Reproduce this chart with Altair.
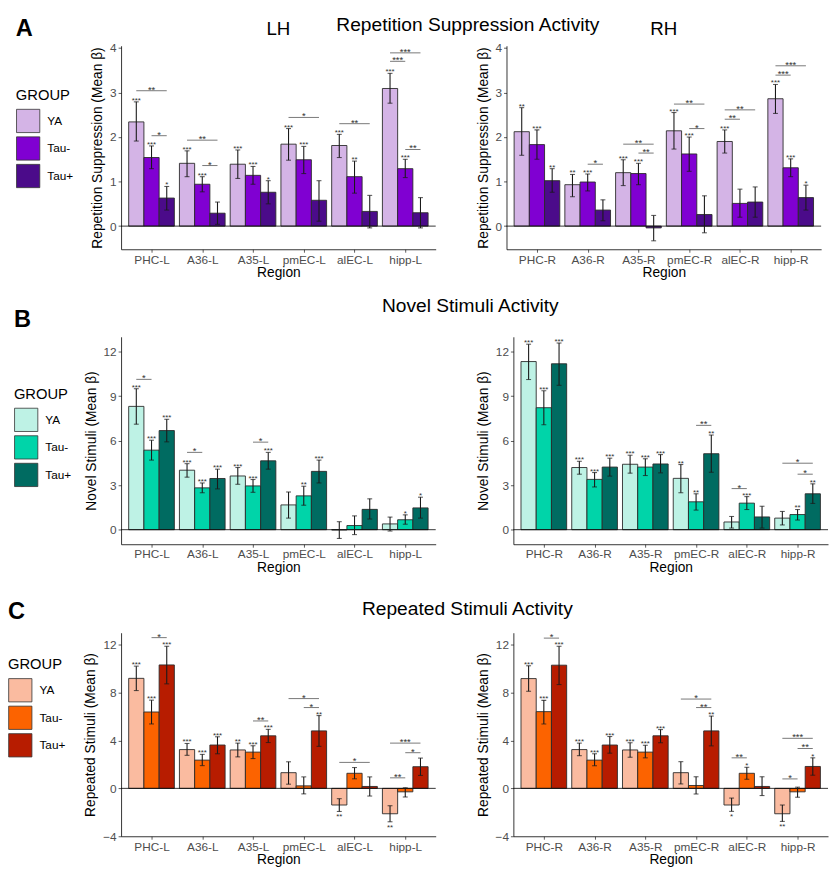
import altair as alt
import pandas as pd

FONT = "Liberation Sans"
groups = ["YA", "Tau-", "Tau+"]
regions_L = ["PHC-L", "A36-L", "A35-L", "pmEC-L", "alEC-L", "hipp-L"]
regions_R = ["PHC-R", "A36-R", "A35-R", "pmEC-R", "alEC-R", "hipp-R"]

colors_A = ["#d4b4e6", "#8000d2", "#4b0b8a"]
colors_B = ["#bef2e5", "#00d4a9", "#006b61"]
colors_C = ["#fabba0", "#fc6300", "#b71c00"]

# ---------------- Panel A: Repetition suppression ----------------
A_L_mean = [[2.34, 1.41, 1.39, 1.84, 1.81, 3.09],
            [1.54, 0.94, 1.14, 1.49, 1.11, 1.29],
            [0.63, 0.29, 0.76, 0.58, 0.33, 0.30]]
A_L_lo = [[1.91, 1.11, 1.07, 1.48, 1.54, 2.76],
          [1.29, 0.77, 0.94, 1.18, 0.74, 1.09],
          [0.36, 0.04, 0.50, 0.11, -0.04, -0.04]]
A_L_hi = [[2.79, 1.69, 1.71, 2.19, 2.06, 3.43],
          [1.80, 1.11, 1.34, 1.79, 1.46, 1.50],
          [0.89, 0.54, 1.02, 1.02, 0.69, 0.64]]
A_L_stars = [["***", "***", "***", "***", "***", "***"],
             ["***", "***", "***", "***", "**", "***"],
             ["*", "", "*", "", "", ""]]
A_L_brackets = [(0, 0, 2, 3.04, "**"), (0, 1, 2, 2.03, "*"), (1, 0, 2, 1.93, "**"),
                (1, 1, 2, 1.36, "*"), (3, 0, 2, 2.44, "*"), (4, 0, 2, 2.30, "**"),
                (5, 0, 1, 3.70, "***"), (5, 0, 2, 3.89, "***"), (5, 1, 2, 1.72, "**")]

A_R_mean = [[2.12, 0.93, 1.20, 2.14, 1.90, 2.86],
            [1.83, 0.99, 1.18, 1.62, 0.51, 1.31],
            [1.02, 0.36, -0.04, 0.26, 0.54, 0.64]]
A_R_lo = [[1.59, 0.66, 0.91, 1.73, 1.64, 2.53],
          [1.50, 0.79, 0.93, 1.23, 0.20, 1.11],
          [0.76, 0.12, -0.33, -0.15, 0.20, 0.36]]
A_R_hi = [[2.66, 1.16, 1.49, 2.55, 2.16, 3.18],
          [2.16, 1.17, 1.41, 2.00, 0.83, 1.51],
          [1.29, 0.59, 0.24, 0.68, 0.88, 0.92]]
A_R_stars = [["**", "**", "***", "***", "***", "***"],
             ["***", "***", "***", "***", "", "***"],
             ["**", "", "", "", "", "*"]]
A_R_brackets = [(1, 1, 2, 1.39, "*"), (2, 0, 2, 1.84, "**"), (2, 1, 2, 1.64, "**"),
                (3, 0, 2, 2.74, "**"), (3, 1, 2, 2.19, "*"), (4, 0, 1, 2.40, "**"),
                (4, 0, 2, 2.61, "**"), (5, 0, 1, 3.39, "***"), (5, 0, 2, 3.60, "***")]

# ---------------- Panel B: Novel stimuli ----------------
B_L_mean = [[8.31, 4.01, 3.62, 1.67, -0.02, 0.39],
            [5.36, 2.82, 2.95, 2.28, 0.28, 0.67],
            [6.68, 3.45, 4.64, 3.93, 1.37, 1.47]]
B_L_lo = [[7.11, 3.54, 3.06, 0.78, -0.59, -0.09],
          [4.69, 2.49, 2.52, 1.65, -0.33, 0.37],
          [5.92, 2.75, 4.08, 3.15, 0.72, 0.78]]
B_L_hi = [[9.50, 4.45, 4.19, 2.54, 0.54, 0.85],
          [6.03, 3.15, 3.38, 2.93, 0.93, 1.00],
          [7.44, 4.08, 5.21, 4.69, 2.08, 2.19]]
B_L_stars = [["***", "***", "***", "", "", ""],
             ["***", "***", "***", "**", "", "*"],
             ["***", "***", "***", "***", "", "*"]]
B_L_brackets = [(0, 0, 1, 10.13, "*"), (1, 0, 1, 5.21, "*"), (2, 1, 2, 5.90, "*")]

B_R_mean = [[11.33, 4.19, 4.41, 3.46, 0.52, 0.78],
            [8.22, 3.39, 4.22, 1.88, 1.79, 1.02],
            [11.18, 4.22, 4.43, 5.12, 0.86, 2.42]]
B_R_lo = [[10.12, 3.74, 3.81, 2.49, 0.11, 0.32],
          [7.07, 2.88, 3.65, 1.32, 1.36, 0.65],
          [9.73, 3.61, 3.83, 3.87, 0.11, 1.77]]
B_R_hi = [[12.50, 4.61, 5.02, 4.39, 0.89, 1.23],
          [9.36, 3.85, 4.78, 2.42, 2.23, 1.36],
          [12.58, 4.82, 5.06, 6.38, 1.58, 3.09]]
B_R_stars = [["***", "***", "***", "**", "", ""],
             ["***", "***", "***", "**", "***", "**"],
             ["***", "***", "***", "**", "", "**"]]
B_R_brackets = [(3, 1, 2, 7.03, "**"), (4, 0, 1, 2.77, "*"), (5, 0, 2, 4.48, "*"),
                (5, 1, 2, 3.74, "*")]

# ---------------- Panel C: Repeated stimuli ----------------
C_L_mean = [[9.19, 3.24, 3.21, 1.31, -1.39, -2.12],
            [6.38, 2.36, 3.03, 0.21, 1.26, -0.29],
            [10.31, 3.62, 4.39, 4.80, 0.16, 1.81]]
C_L_lo = [[8.17, 2.76, 2.63, 0.35, -1.93, -2.79],
          [5.38, 1.90, 2.49, -0.46, 0.80, -0.72],
          [8.73, 2.89, 3.83, 3.51, -0.64, 1.08]]
C_L_hi = [[10.21, 3.75, 3.78, 2.22, -0.86, -1.45],
          [7.37, 2.84, 3.56, 0.96, 1.74, 0.05],
          [11.87, 4.31, 4.93, 6.08, 0.96, 2.53]]
C_L_stars = [["***", "***", "**", "", "**", "**"],
             ["***", "***", "***", "", "", ""],
             ["***", "***", "***", "**", "", ""]]
C_L_brackets = [(0, 1, 2, 12.59, "*"), (2, 1, 2, 5.63, "**"), (3, 0, 2, 7.50, "*"),
                (3, 1, 2, 6.75, "*"), (4, 0, 2, 2.17, "*"), (5, 0, 1, 0.88, "**"),
                (5, 0, 2, 3.78, "***"), (5, 1, 2, 2.98, "*")]

C_R_mean = [[9.17, 3.24, 3.21, 1.31, -1.39, -2.12],
            [6.41, 2.36, 3.03, 0.24, 1.26, -0.29],
            [10.29, 3.62, 4.39, 4.80, 0.16, 1.83]]
C_R_lo = [[8.11, 2.73, 2.60, 0.37, -1.92, -2.76],
          [5.38, 1.89, 2.55, -0.47, 0.76, -0.74],
          [8.67, 2.94, 3.81, 3.55, -0.60, 1.10]]
C_R_hi = [[10.24, 3.78, 3.81, 2.23, -0.81, -1.39],
          [7.35, 2.89, 3.60, 0.97, 1.76, 0.10],
          [11.87, 4.33, 4.91, 6.04, 0.97, 2.55]]
C_R_stars = [["***", "***", "***", "", "*", "**"],
             ["***", "***", "***", "", "*", ""],
             ["***", "***", "***", "**", "", "*"]]
C_R_brackets = [(0, 1, 2, 12.55, "*"), (3, 0, 2, 7.46, "*"), (3, 1, 2, 6.75, "**"),
                (4, 0, 1, 2.55, "**"), (5, 0, 1, 0.79, "*"), (5, 0, 2, 4.18, "***"),
                (5, 1, 2, 3.33, "**")]

BAR_W = 0.3
W = 320


def frames(mean, lo, hi, stars, brackets):
    rows = []
    for g, gname in enumerate(groups):
        for i in range(6):
            xc = i + (g - 1) * BAR_W
            rows.append(dict(group=gname, xc=xc, x1=xc - BAR_W / 2, x2=xc + BAR_W / 2,
                             mean=mean[g][i], lo=lo[g][i], hi=hi[g][i], star=stars[g][i]))
    bars = pd.DataFrame(rows)
    up = bars[(bars["star"] != "") & (bars["mean"] >= 0)]
    down = bars[(bars["star"] != "") & (bars["mean"] < 0)]
    brs = []
    for (i, g1, g2, y, lab) in brackets:
        a = i + (g1 - 1) * BAR_W
        b = i + (g2 - 1) * BAR_W
        brs.append(dict(bx1=a, bx2=b, bxc=(a + b) / 2, by=y, label=lab))
    return bars, up, down, pd.DataFrame(brs)


def panel(regions, mean, lo, hi, stars, brackets, colors, ydom, yticks, ytitle,
          letter, letter_y, legend, height, title=None, show_letter=True):
    bars, up, down, br = frames(mean, lo, hi, stars, brackets)
    label_expr = "[" + ",".join("'%s'" % r for r in regions) + "][datum.value]"
    xs = alt.Scale(domain=[-0.6, 5.6], nice=False, zero=False)
    ys = alt.Scale(domain=ydom, nice=False, zero=False)
    xaxis = alt.Axis(values=list(range(6)), labelExpr=label_expr, title="Region")
    yaxis = alt.Axis(values=yticks, title=ytitle)

    def X(f):
        return alt.X(f, type="quantitative", scale=xs, axis=xaxis)

    def Y(f):
        return alt.Y(f, type="quantitative", scale=ys, axis=yaxis)

    bar = alt.Chart(bars).mark_rect(stroke="#2a2a2a", strokeWidth=0.9).encode(
        x=X("x1"), x2="x2", y=Y("mean"), y2=alt.datum(0),
        color=alt.Color("group:N", scale=alt.Scale(domain=groups, range=colors),
                        legend=legend))
    zero = alt.Chart(pd.DataFrame({"z": [0]})).mark_rule(
        color="black", strokeWidth=0.8).encode(y=Y("z"))
    err = alt.Chart(bars).mark_rule(color="#1a1a1a", strokeWidth=1.1).encode(
        x=X("xc"), y=Y("lo"), y2="hi")
    cap_lo = alt.Chart(bars).mark_tick(orient="horizontal", size=5, thickness=1.1,
                                       color="#1a1a1a").encode(x=X("xc"), y=Y("lo"))
    cap_hi = alt.Chart(bars).mark_tick(orient="horizontal", size=5, thickness=1.1,
                                       color="#1a1a1a").encode(x=X("xc"), y=Y("hi"))
    st_up = alt.Chart(up).mark_text(font=FONT, fontSize=8, baseline="alphabetic",
                                    dy=1, color="#333333").encode(
        x=X("xc"), y=Y("hi"), text="star:N")
    st_dn = alt.Chart(down).mark_text(font=FONT, fontSize=8, baseline="top",
                                      dy=2, color="#333333").encode(
        x=X("xc"), y=Y("lo"), text="star:N")
    brl = alt.Chart(br).mark_rule(color="#555555", strokeWidth=0.8).encode(
        x=X("bx1"), x2="bx2", y=Y("by"))
    brt = alt.Chart(br).mark_text(font=FONT, fontSize=9.5, baseline="alphabetic",
                                  dy=2, color="#333333").encode(
        x=X("bxc"), y=Y("by"), text="label:N")
    let = alt.Chart(pd.DataFrame({"t": [letter]})).mark_text(
        font=FONT, fontSize=24, fontWeight="bold", align="left",
        baseline="alphabetic", color="black",
        opacity=1 if show_letter else 0).encode(
        text="t:N",
        x=alt.value(legend.legendX if show_letter else 0),
        y=alt.value(letter_y))
    ch = alt.layer(bar, zero, err, cap_lo, cap_hi, st_up, st_dn, brl, brt, let)
    props = dict(width=W, height=height)
    if title is not None:
        props["title"] = alt.TitleParams(title, fontSize=19, font=FONT,
                                         fontWeight="normal", anchor="middle",
                                         offset=-22)
    return ch.properties(**props)


def make_legend(lx, ly):
    return alt.Legend(orient="none", legendX=lx, legendY=ly, title="GROUP",
                      titleFont=FONT, titleFontSize=15, titleFontWeight="normal",
                      titleColor="black", titlePadding=6, padding=0,
                      labelFont=FONT, labelFontSize=12, labelColor="black",
                      labelOffset=7, symbolType="square", symbolSize=560,
                      symbolStrokeColor="#333333", symbolStrokeWidth=0.8,
                      symbolOpacity=1, rowPadding=1)


def row(spec_l, spec_r, colors, ydom, yticks, ytitle, letter, letter_y, lx, ly,
        rtitle, toff, height, titles=(None, None)):
    lg = make_legend(lx, ly)
    left = panel(regions_L, *spec_l, colors, ydom, yticks, ytitle, letter, letter_y,
                 lg, height, title=titles[0], show_letter=True)
    right = panel(regions_R, *spec_r, colors, ydom, yticks, ytitle, letter, letter_y,
                  lg, height, title=titles[1], show_letter=False)
    # right panel must not draw a legend
    right.layer[0].encoding.color.legend = None
    r = alt.hconcat(left, right, spacing=40).properties(
        title=alt.TitleParams(rtitle, fontSize=19.5, font=FONT, fontWeight="normal",
                              anchor="middle", offset=toff, dx=50))
    return r.resolve_scale(color="independent", x="independent",
                           y="independent").resolve_legend(color="independent")


rowA = row((A_L_mean, A_L_lo, A_L_hi, A_L_stars, A_L_brackets),
           (A_R_mean, A_R_lo, A_R_hi, A_R_stars, A_R_brackets),
           colors_A, [-0.52, 4.05], [0, 1, 2, 3, 4],
           "Repetition Suppression (Mean \u03b2)", "A", -10, -107, 43,
           "Repetition Suppression Activity", -19, 207, titles=("LH", "RH"))
rowB = row((B_L_mean, B_L_lo, B_L_hi, B_L_stars, B_L_brackets),
           (B_R_mean, B_R_lo, B_R_hi, B_R_stars, B_R_brackets),
           colors_B, [-0.98, 13.0], [0, 3, 6, 9, 12],
           "Novel Stimuli (Mean \u03b2)", "B", -10, -109, 51,
           "Novel Stimuli Activity", -8, 211)
rowC = row((C_L_mean, C_L_lo, C_L_hi, C_L_stars, C_L_brackets),
           (C_R_mean, C_R_lo, C_R_hi, C_R_stars, C_R_brackets),
           colors_C, [-4.0, 13.0], [-4, 0, 4, 8, 12],
           "Repeated Stimuli (Mean \u03b2)", "C", -14, -115, 25,
           "Repeated Stimuli Activity", -19, 207)

top = alt.vconcat(rowA, rowB, spacing=16).resolve_scale(
    color="independent", x="independent", y="independent"
).resolve_legend(color="independent")

chart = alt.vconcat(top, rowC, spacing=24).resolve_scale(
    color="independent", x="independent", y="independent"
).resolve_legend(color="independent").properties(padding=0).configure_view(
    stroke=None
).configure_axis(
    domainColor="black", domainWidth=0.8, tickColor="#333333", tickWidth=0.8,
    tickSize=3, labelColor="#4d4d4d", labelFont=FONT, labelFontSize=12,
    titleFont=FONT, titleFontSize=14, titleFontWeight="normal", titleColor="black",
    grid=False, labelPadding=2
).configure_axisX(titlePadding=1).configure_axisY(titlePadding=5).configure_title(
    font=FONT, fontWeight="normal", color="black"
)

chart.save("out.html", embed_options={"renderer": "svg", "actions": False})
